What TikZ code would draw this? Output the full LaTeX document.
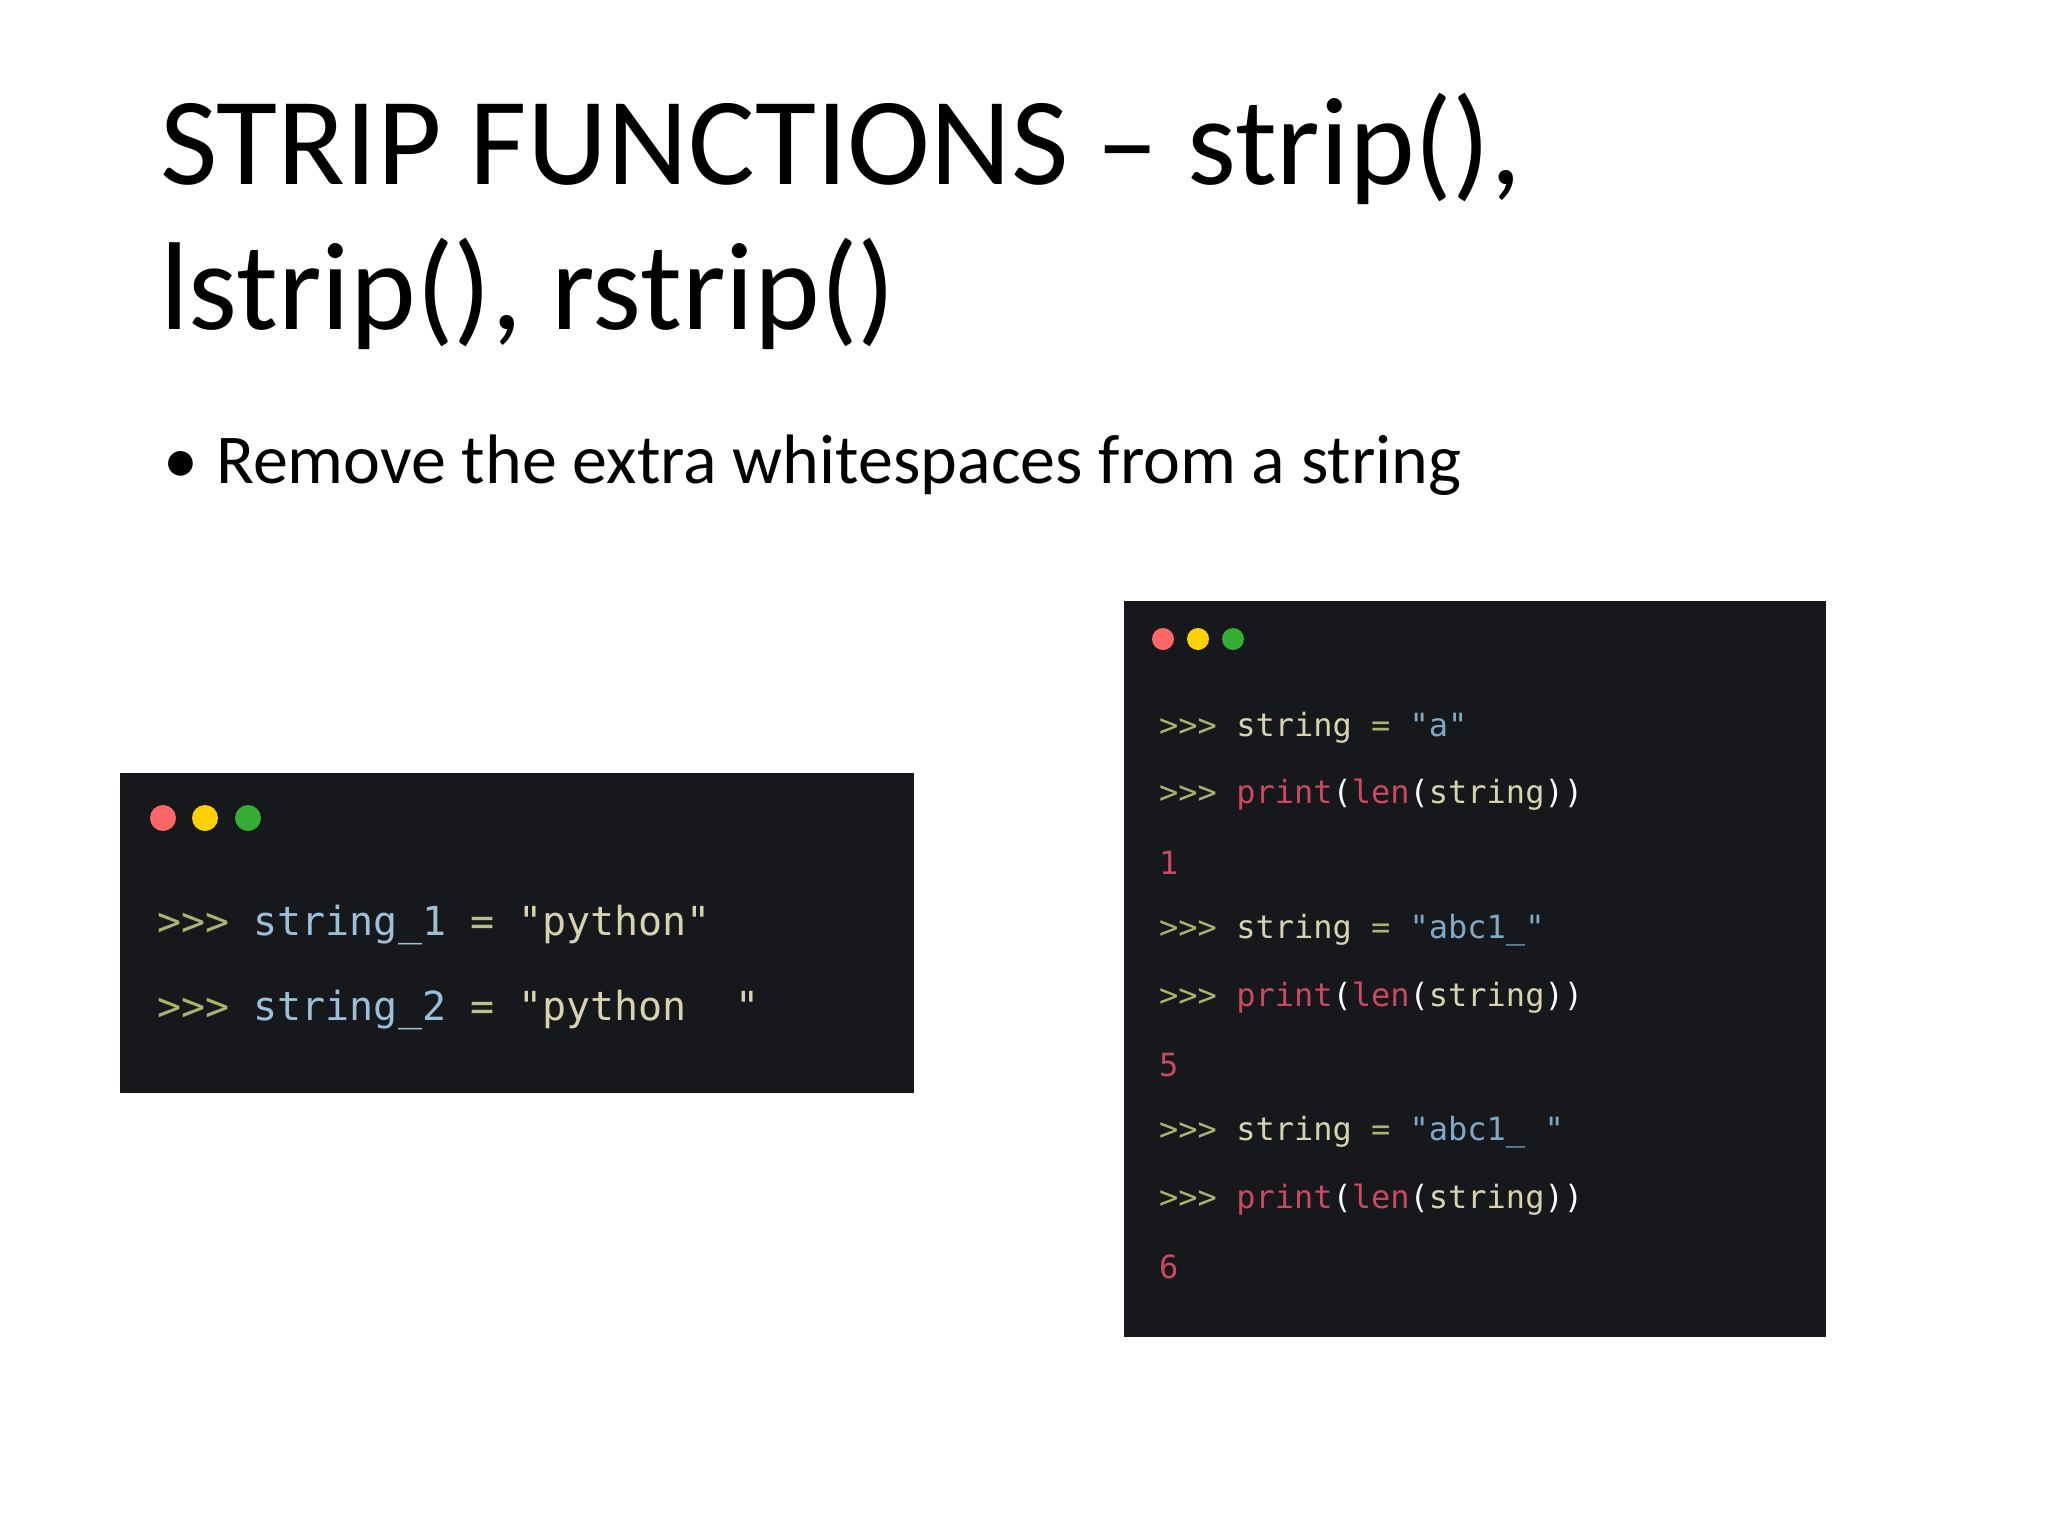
\documentclass[tikz,border=0pt]{standalone}
\usepackage{fontspec}
\setmainfont{Carlito}
\newfontfamily\titlefont{Carlito}
\setmonofont{DejaVu Sans Mono}
\definecolor{bgc}{HTML}{16181C}
\definecolor{prm}{HTML}{A9B56C}
\definecolor{idf}{HTML}{D8D3AE}
\definecolor{str}{HTML}{7FA9C9}
\definecolor{fun}{HTML}{C94A60}
\definecolor{idb}{HTML}{9CC0DA}
\definecolor{opc}{HTML}{B8C28A}
\begin{document}
\begin{tikzpicture}[x=1pt,y=-1pt,
  codeR/.style={anchor=west,inner sep=0,font=\fontsize{32}{32}\ttfamily},
  codeL/.style={anchor=west,inner sep=0,font=\fontsize{40}{40}\ttfamily},
  dotr/.style={fill=#1,draw=none}]
\useasboundingbox (0,0) rectangle (2048,1536);
\fill[white] (0,0) rectangle (2048,1536);
\node[anchor=base west,inner sep=0,font=\fontsize{125}{145}\selectfont\addfontfeature{}] (t1) at (160,184) {STRIP FUNCTIONS -- strip(),};
\node[anchor=base west,inner sep=0,font=\fontsize{125}{145}\selectfont] (t2) at (160,329) {lstrip(), rstrip()};
\node[anchor=base west,inner sep=0,font=\fontsize{70}{80}\selectfont] (b0) at (163,483) {•};
\node[anchor=base west,inner sep=0,font=\fontsize{70}{80}\selectfont] (b1) at (216,483) {Remove the extra whitespaces from a string};
% left box
\fill[bgc] (120,773) rectangle (914,1093);
\fill[dotr={red!60!white}] (163,818) circle (13);
\fill[dotr={yellow!70!orange}] (205,818) circle (13);
\fill[dotr={green!60!black!80!white}] (248,818) circle (13);
\node[codeL] (l1) at (157,925) {\textcolor{prm}{>>>} \textcolor{idb}{string\_1} \textcolor{opc}{=} \textcolor{idf}{"python"}};
\node[codeL] (l2) at (157,1010) {\textcolor{prm}{>>>} \textcolor{idb}{string\_2} \textcolor{opc}{=} \textcolor{idf}{"python~~"}};
% right box
\fill[bgc] (1124,601) rectangle (1826,1337);
\fill[dotr={red!60!white}] (1163,639) circle (11);
\fill[dotr={yellow!70!orange}] (1198,639) circle (11);
\fill[dotr={green!60!black!80!white}] (1233,639) circle (11);
\node[codeR] (r1) at (1159,728) {\textcolor{prm}{>>>} \textcolor{idf}{string} \textcolor{prm}{=} \textcolor{str}{"a"}};
\node[codeR] (r2) at (1159,795) {\textcolor{prm}{>>>} \textcolor{fun}{print}\textcolor{white}{(}\textcolor{fun}{len}\textcolor{white}{(}\textcolor{idf}{string}\textcolor{white}{))}};
\node[codeR] (r3) at (1159,863) {\textcolor{fun}{1}};
\node[codeR] (r4) at (1159,930) {\textcolor{prm}{>>>} \textcolor{idf}{string} \textcolor{prm}{=} \textcolor{str}{"abc1\_"}};
\node[codeR] (r5) at (1159,998) {\textcolor{prm}{>>>} \textcolor{fun}{print}\textcolor{white}{(}\textcolor{fun}{len}\textcolor{white}{(}\textcolor{idf}{string}\textcolor{white}{))}};
\node[codeR] (r6) at (1159,1065) {\textcolor{fun}{5}};
\node[codeR] (r7) at (1159,1132) {\textcolor{prm}{>>>} \textcolor{idf}{string} \textcolor{prm}{=} \textcolor{str}{"abc1\_~"}};
\node[codeR] (r8) at (1159,1200) {\textcolor{prm}{>>>} \textcolor{fun}{print}\textcolor{white}{(}\textcolor{fun}{len}\textcolor{white}{(}\textcolor{idf}{string}\textcolor{white}{))}};
\node[codeR] (r9) at (1159,1267) {\textcolor{fun}{6}};
\end{tikzpicture}
\end{document}
